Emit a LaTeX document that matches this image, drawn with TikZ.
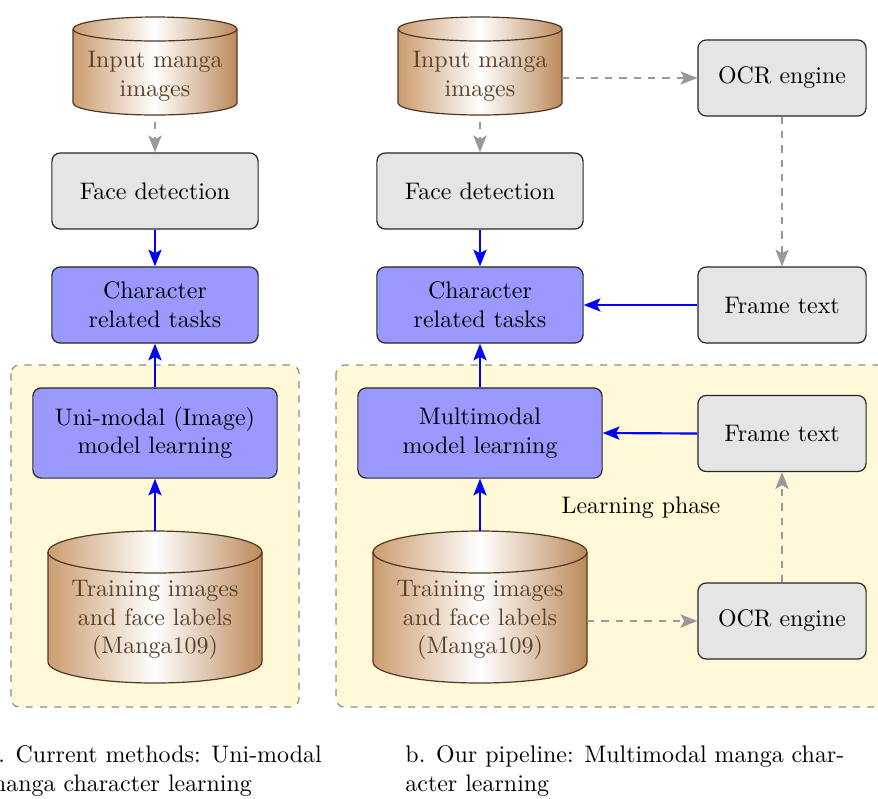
\documentclass[tikz,border=0pt]{standalone}
\usetikzlibrary{arrows.meta}
\definecolor{panelc}{RGB}{255,249,216}
\definecolor{cylc}{RGB}{198,145,95}
\definecolor{cylb}{RGB}{80,55,35}
\definecolor{cyltext}{RGB}{88,64,42}
\newcommand\mycyl[6]{%
  \shadedraw[draw=cylb, line width=0.5pt, left color=cylc!90!white, right color=cylc!95!black, middle color=white]
    (#2-#5,-#4) arc[start angle=180,end angle=360,x radius=#5,y radius=#6]
    -- (#2+#5,-#3) arc[start angle=0,end angle=180,x radius=#5,y radius=#6] -- cycle;
  \draw[draw=cylb, line width=0.5pt] (#2-#5,-#3) arc[start angle=180,end angle=360,x radius=#5,y radius=#6];
  \node[inner sep=0pt, outer sep=0pt, minimum width=2*#5*0.418pt, minimum height=(#4-#3+2*#6)*0.418pt]
    (#1) at (#2,-#3/2-#4/2) {};
}
\begin{document}
\begin{tikzpicture}[x=0.418pt,y=0.418pt,
  box/.style={draw=black!85, line width=0.5pt, rounded corners=3.5pt, minimum width=86.2pt,
    minimum height=31.8pt, align=center, inner sep=2pt},
  graybox/.style={box, fill=black!10},
  bluebox/.style={box, fill=blue!40},
  widebox/.style={minimum width=102.1pt, minimum height=37.7pt},
  ocrbox/.style={graybox, minimum width=70.3pt},
  bluearrow/.style={draw=blue, line width=0.9pt, -{Stealth[length=7pt,width=5.5pt,inset=1.5pt]}},
  grayarrow/.style={draw=black!40, line width=0.8pt, dashed, -{Stealth[length=7pt,width=5.5pt,inset=1.5pt]}},
  panel/.style={draw=black!45, dashed, fill=panelc, rounded corners=3.5pt, line width=0.5pt},
  cyltxt/.style={text=cyltext, align=center, inner sep=0pt},
  captxt/.style={align=left, inner sep=0pt, anchor=base west}
]
\clip (0,0) rectangle (878,-798);
\useasboundingbox (0,0) rectangle (878,-798);

% panels
\draw[panel] (11,-365) rectangle (299,-707);
\draw[panel] (336,-365) rectangle (900,-707);

% left column
\mycyl{inL}{155}{29}{103}{82}{12}
\node[cyltxt] (inLt) at (155,-76) {Input manga\\images};
\node[graybox] (fdL) at (155,-191) {Face detection};
\node[bluebox] (crL) at (155,-305) {Character\\related tasks};
\node[bluebox, widebox] (umL) at (155,-433) {Uni-modal (Image)\\model learning};
\mycyl{trL}{155}{552}{662}{107}{21}
\node[cyltxt] (trLt) at (155,-620) {Training images\\and face labels\\(Manga109)};

% right column
\mycyl{inR}{480}{29}{103}{82}{12}
\node[cyltxt] (inRt) at (480,-76) {Input manga\\images};
\node[graybox] (fdR) at (480,-191) {Face detection};
\node[bluebox] (crR) at (480,-305) {Character\\related tasks};
\node[bluebox, widebox] (mmR) at (480,-433) {Multimodal\\model learning};
\mycyl{trR}{480}{552}{662}{107}{21}
\node[cyltxt] (trRt) at (480,-620) {Training images\\and face labels\\(Manga109)};

\node[ocrbox] (ocr1) at (782,-78) {OCR engine};
\node[ocrbox] (ft1) at (782,-305) {Frame text};
\node[ocrbox] (ft2) at (782,-433.5) {Frame text};
\node[ocrbox] (ocr2) at (782,-621) {OCR engine};
\node[inner sep=0pt] (lp) at (641,-508) {Learning phase};

% captions
\node[captxt] (capa) at (-14,-791) {a. Current methods: Uni-modal\\manga character learning};
\node[captxt] (capb) at (405,-791) {b. Our pipeline: Multimodal manga char-\\acter learning};

% arrows left
\draw[grayarrow, shorten <=3pt] (inL.south) -- (fdL.north);
\draw[bluearrow] (fdL.south) -- (crL.north);
\draw[bluearrow] (umL.north) -- (crL.south);
\draw[bluearrow] (trL.north) -- (umL.south);

% arrows right
\draw[grayarrow, shorten <=3pt] (inR.south) -- (fdR.north);
\draw[bluearrow] (fdR.south) -- (crR.north);
\draw[bluearrow] (mmR.north) -- (crR.south);
\draw[bluearrow] (trR.north) -- (mmR.south);
\draw[grayarrow] (inR.east |- ocr1.west) -- (ocr1.west);
\draw[grayarrow] (ocr1.south) -- (ft1.north);
\draw[bluearrow] (ft1.west) -- (crR.east);
\draw[bluearrow] (ft2.west) -- (mmR.east);
\draw[grayarrow] (trR.east |- ocr2.west) -- (ocr2.west);
\draw[grayarrow] (ocr2.north) -- (ft2.south);
\end{tikzpicture}
\end{document}
